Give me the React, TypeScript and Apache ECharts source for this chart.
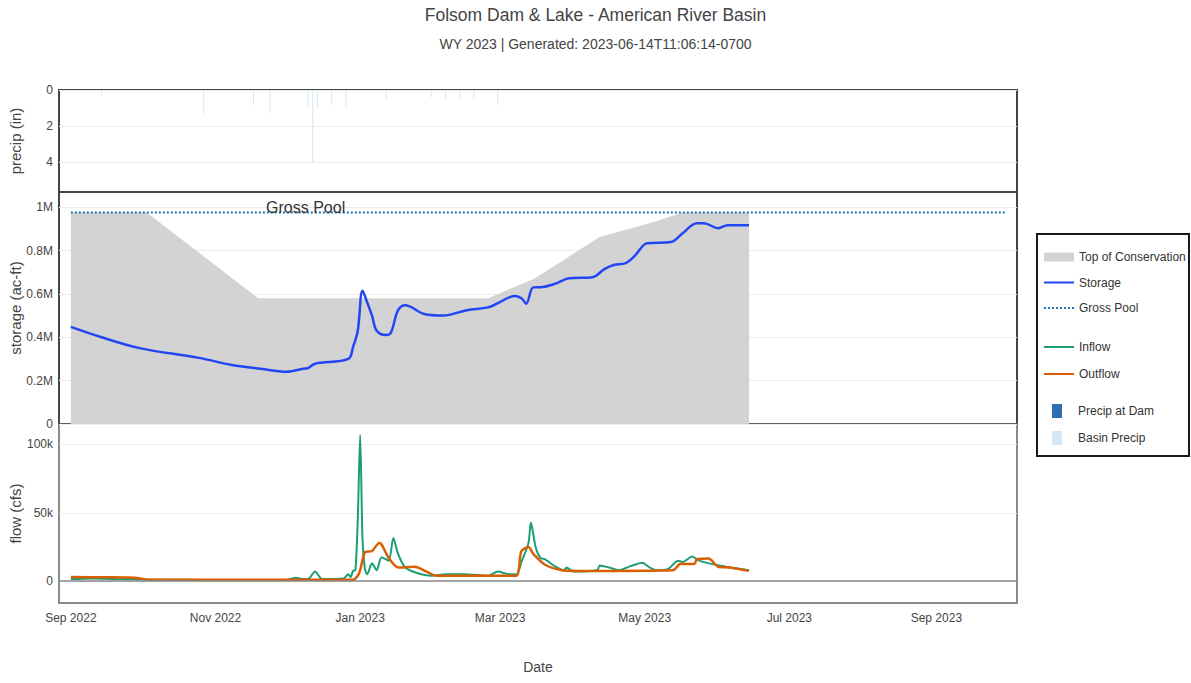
import React, { useEffect, useRef } from "react";
import * as echarts from "echarts";

// ---------- data ----------
const xTickDates = ["2022-09-01", "2022-11-01", "2023-01-01", "2023-03-01", "2023-05-01", "2023-07-01", "2023-09-01"];
const xTickLabels = ["Sep 2022", "Nov 2022", "Jan 2023", "Mar 2023", "May 2023", "Jul 2023", "Sep 2023"];
const xRange = ["2022-08-27", "2023-10-05"];

const precipTicks = [0, 2, 4];
const storageTicks = [0, 200000, 400000, 600000, 800000, 1000000];
const storageTickLabels = ["0", "0.2M", "0.4M", "0.6M", "0.8M", "1M"];
const flowTicks = [0, 50000, 100000];
const flowTickLabels = ["0", "50k", "100k"];

const basinPrecipDates = ["2022-09-14", "2022-10-27", "2022-11-17", "2022-11-24", "2022-12-10", "2022-12-12", "2022-12-14", "2022-12-20", "2022-12-26", "2023-01-12", "2023-01-31", "2023-02-06", "2023-02-12", "2023-02-18", "2023-02-28"];
const basinPrecipValues = [0.3, 1.3, 0.8, 1.3, 0.9, 4.0, 1.0, 0.8, 1.0, 0.5, 0.4, 0.5, 0.5, 0.5, 0.8];
const damPrecipDates: string[] = [];
const damPrecipValues: number[] = [];

const tocDates = ["2022-09-01", "2022-10-03", "2022-11-19", "2023-02-24", "2023-03-15", "2023-03-29", "2023-04-12", "2023-05-03", "2023-05-17", "2023-06-14"];
const tocValues = [975000, 975000, 580000, 580000, 668000, 765000, 863000, 926000, 975000, 975000];

const grossPoolDates = ["2022-09-01", "2023-09-30"];
const grossPoolValues = [975000, 975000];

const storageDates = ["2022-09-01", "2022-09-14", "2022-09-30", "2022-10-25", "2022-11-08", "2022-11-20", "2022-12-01", "2022-12-08", "2022-12-10", "2022-12-13", "2022-12-27", "2022-12-29", "2022-12-31", "2023-01-02", "2023-01-04", "2023-01-06", "2023-01-08", "2023-01-12", "2023-01-14", "2023-01-17", "2023-01-20", "2023-01-28", "2023-02-05", "2023-02-15", "2023-02-24", "2023-02-28", "2023-03-07", "2023-03-10", "2023-03-12", "2023-03-15", "2023-03-19", "2023-03-25", "2023-03-30", "2023-04-09", "2023-04-14", "2023-04-18", "2023-04-23", "2023-04-27", "2023-05-02", "2023-05-12", "2023-05-17", "2023-05-23", "2023-05-26", "2023-06-01", "2023-06-05", "2023-06-14"];
const storageValues = [448000, 400000, 350000, 305000, 272000, 255000, 241000, 255000, 258000, 278000, 300000, 355000, 430000, 615000, 560000, 500000, 430000, 410000, 422000, 525000, 548000, 507000, 500000, 525000, 538000, 557000, 590000, 580000, 555000, 630000, 632000, 650000, 672000, 677000, 714000, 733000, 742000, 778000, 834000, 839000, 880000, 926000, 926000, 903000, 917000, 917000];

const inflowDates = ["2022-09-01", "2022-09-10", "2022-09-20", "2022-10-01", "2022-10-20", "2022-11-01", "2022-11-15", "2022-12-01", "2022-12-05", "2022-12-08", "2022-12-10", "2022-12-13", "2022-12-16", "2022-12-25", "2022-12-27", "2022-12-28", "2022-12-29", "2022-12-30", "2022-12-31", "2023-01-01", "2023-01-02", "2023-01-03", "2023-01-04", "2023-01-06", "2023-01-08", "2023-01-10", "2023-01-13", "2023-01-15", "2023-01-17", "2023-01-20", "2023-01-25", "2023-01-31", "2023-02-06", "2023-02-14", "2023-02-24", "2023-02-28", "2023-03-05", "2023-03-08", "2023-03-10", "2023-03-13", "2023-03-14", "2023-03-16", "2023-03-18", "2023-03-20", "2023-03-24", "2023-03-28", "2023-03-29", "2023-04-01", "2023-04-11", "2023-04-12", "2023-04-16", "2023-04-20", "2023-04-25", "2023-04-30", "2023-05-03", "2023-05-06", "2023-05-11", "2023-05-15", "2023-05-17", "2023-05-21", "2023-05-24", "2023-05-28", "2023-06-03", "2023-06-06", "2023-06-14"];
const inflowValues = [1500, 2000, 1500, 1200, 1000, 800, 900, 1000, 2500, 1500, 1500, 7000, 1500, 2000, 5000, 3000, 7500, 8000, 45000, 107000, 30000, 9000, 5000, 13000, 8000, 17500, 15000, 31500, 20000, 10000, 6000, 4000, 5000, 5000, 4000, 7000, 5000, 5000, 14000, 28000, 43000, 25000, 17000, 16000, 11000, 8000, 10000, 7000, 8000, 11500, 10000, 8000, 11000, 13500, 10000, 8000, 9000, 15000, 14000, 18000, 15000, 13000, 11000, 10000, 8000];

const outflowDates = ["2022-09-01", "2022-09-15", "2022-09-28", "2022-10-03", "2022-11-15", "2022-12-29", "2022-12-31", "2023-01-01", "2023-01-03", "2023-01-06", "2023-01-09", "2023-01-10", "2023-01-13", "2023-01-17", "2023-01-24", "2023-01-29", "2023-02-02", "2023-02-28", "2023-03-08", "2023-03-09", "2023-03-10", "2023-03-13", "2023-03-15", "2023-03-20", "2023-03-27", "2023-04-03", "2023-05-13", "2023-05-16", "2023-05-22", "2023-05-23", "2023-05-28", "2023-06-01", "2023-06-06", "2023-06-14"];
const outflowValues = [3000, 2800, 2500, 1200, 1000, 1000, 4000, 8000, 21000, 22000, 28000, 27000, 17000, 10000, 10500, 7000, 4000, 4000, 4000, 10000, 22000, 25000, 20000, 12000, 8000, 7500, 8000, 12500, 12500, 16000, 16500, 10500, 10000, 7500];

const grossPoolLabelDate = "2022-12-09";

// ---------- helpers ----------
const t = (s: string) => Date.parse(s);
const pairs = (d: string[], v: number[]) => d.map((s, i) => [t(s), v[i]]);

const FONT = "'Liberation Sans', Arial, sans-serif";
const xTickTimes = xTickDates.map(t);
const hideSymbol = { itemStyle: { opacity: 0 } };

export default function App() {
  const ref = useRef<HTMLDivElement>(null);

  useEffect(() => {
    if (!ref.current) return;
    const chart = echarts.init(ref.current, undefined, { renderer: "svg" });

    const baseX = (gridIndex: number, showLabels: boolean) => ({
      type: "value",
      gridIndex,
      min: t(xRange[0]),
      max: t(xRange[1]),
      axisLine: { show: false },
      axisTick: { show: false, customValues: xTickTimes },
      splitLine: { show: false },
      axisLabel: {
        show: showLabels,
        customValues: xTickTimes,
        fontSize: 12,
        color: "#444",
        margin: 9,
        formatter: (v: number) => {
          const i = xTickTimes.indexOf(v);
          return i >= 0 ? xTickLabels[i] : "";
        },
      },
      ...(showLabels
        ? { name: "Date", nameLocation: "middle", nameGap: 57, nameMoveOverlap: false, nameTextStyle: { fontSize: 14, color: "#444" } }
        : {}),
    });

    const yName = { nameLocation: "middle", nameGap: 36, nameMoveOverlap: false, nameTextStyle: { fontSize: 15, color: "#444" } };
    const splitLine = { show: true, lineStyle: { color: "#ececec", width: 1 } };
    const gridBase = { left: 59, width: 958, show: true, backgroundColor: "transparent", containLabel: false, outerBoundsMode: "none" };

    const option: any = {
      animation: false,
      textStyle: { fontFamily: FONT },
      title: [
        { text: "Folsom Dam & Lake - American River Basin", left: "center", top: 6, padding: 0, textStyle: { fontSize: 17.5, fontWeight: "normal", color: "#444", fontFamily: FONT } },
        { text: "WY 2023 | Generated: 2023-06-14T11:06:14-0700", left: "center", top: 37, padding: 0, textStyle: { fontSize: 14, fontWeight: "normal", color: "#444", fontFamily: FONT } },
      ],
      grid: [
        { ...gridBase, top: 90, height: 102, borderColor: "#444", borderWidth: 2 },
        { ...gridBase, top: 192, height: 232, borderColor: "#444", borderWidth: 2 },
        { ...gridBase, top: 424, height: 179, borderColor: "#666", borderWidth: 1.5 },
      ],
      xAxis: [baseX(0, false), baseX(1, false), baseX(2, true)],
      yAxis: [
        {
          type: "value", gridIndex: 0, min: 0, max: 5.67, inverse: true,
          name: "precip (in)", ...yName,
          axisLine: { show: false }, axisTick: { show: false, customValues: precipTicks },
          axisLabel: { customValues: precipTicks, fontSize: 12, color: "#444", margin: 6 },
          splitLine,
        },
        {
          type: "value", gridIndex: 1, min: 0, max: 1070000,
          name: "storage (ac-ft)", ...yName,
          axisLine: { show: false }, axisTick: { show: false, customValues: storageTicks },
          axisLabel: {
            customValues: storageTicks, fontSize: 12, color: "#444", margin: 6,
            formatter: (v: number) => {
              const i = storageTicks.indexOf(v);
              return i >= 0 ? storageTickLabels[i] : "";
            },
          },
          splitLine,
        },
        {
          type: "value", gridIndex: 2, min: -16000, max: 115000,
          name: "flow (cfs)", ...yName,
          axisLine: { show: false }, axisTick: { show: false, customValues: flowTicks },
          axisLabel: {
            customValues: flowTicks, fontSize: 12, color: "#444", margin: 6,
            formatter: (v: number) => {
              const i = flowTicks.indexOf(v);
              return i >= 0 ? flowTickLabels[i] : "";
            },
          },
          splitLine,
        },
      ],
      legend: [
        {
          orient: "vertical", left: 1043, top: 251, padding: 0, itemWidth: 30, itemHeight: 9, itemGap: 13.5,
          textStyle: { fontSize: 12, color: "#333", fontFamily: FONT },
          data: [{ name: "Top of Conservation", icon: "rect" }, { name: "Storage", ...hideSymbol }, { name: "Gross Pool", ...hideSymbol }],
        },
        {
          orient: "vertical", left: 1043, top: 341, padding: 0, itemWidth: 30, itemHeight: 10, itemGap: 15,
          textStyle: { fontSize: 12, color: "#333", fontFamily: FONT },
          data: [{ name: "Inflow", ...hideSymbol }, { name: "Outflow", ...hideSymbol }],
        },
        {
          orient: "vertical", left: 1052, top: 404, padding: 0, itemWidth: 10, itemHeight: 14, itemGap: 13,
          textStyle: { fontSize: 12, color: "#333", fontFamily: FONT, padding: [0, 0, 0, 11] },
          data: [{ name: "Precip at Dam", icon: "rect" }, { name: "Basin Precip", icon: "rect" }],
        },
      ],
      graphic: [
        { type: "rect", shape: { x: 1037, y: 234, width: 152, height: 222 }, style: { fill: "none", stroke: "#1a1a1a", lineWidth: 2 }, silent: true },
      ],
      series: [
        {
          name: "Precip at Dam", type: "bar", xAxisIndex: 0, yAxisIndex: 0, barWidth: 1,
          itemStyle: { color: "#2f6eb0" }, data: pairs(damPrecipDates, damPrecipValues),
        },
        {
          name: "Basin Precip", type: "bar", xAxisIndex: 0, yAxisIndex: 0, barWidth: 1, barGap: "-100%",
          itemStyle: { color: "#c3dcf0", opacity: 0.7 }, data: pairs(basinPrecipDates, basinPrecipValues),
        },
        {
          name: "Top of Conservation", type: "line", xAxisIndex: 1, yAxisIndex: 1, symbol: "none",
          lineStyle: { width: 0, color: "#d3d3d3" }, itemStyle: { color: "#d3d3d3" },
          areaStyle: { color: "#d3d3d3", opacity: 1 }, z: 1,
          data: pairs(tocDates, tocValues),
        },
        {
          name: "Gross Pool", type: "line", xAxisIndex: 1, yAxisIndex: 1, symbol: "none",
          lineStyle: { width: 2, type: [2, 2], color: "#1f77b4" }, itemStyle: { color: "#1f77b4" }, z: 3,
          data: pairs(grossPoolDates, grossPoolValues),
          markPoint: {
            symbol: "circle", symbolSize: 0, silent: true,
            label: { show: true, position: "inside", offset: [0, -5], formatter: "Gross Pool", fontSize: 16, color: "#333", fontFamily: FONT },
            data: [{ coord: [t(grossPoolLabelDate), grossPoolValues[0]] }],
          },
        },
        {
          name: "Storage", type: "line", xAxisIndex: 1, yAxisIndex: 1, symbol: "none", smooth: 0.35,
          lineStyle: { width: 2.5, color: "#2346f5" }, itemStyle: { color: "#2346f5" }, z: 4,
          data: pairs(storageDates, storageValues),
        },
        {
          name: "Inflow", type: "line", xAxisIndex: 2, yAxisIndex: 2, symbol: "none", smooth: 0.25,
          lineStyle: { width: 2, color: "#1b9e77" }, itemStyle: { color: "#1b9e77" }, z: 3,
          data: pairs(inflowDates, inflowValues),
          markLine: {
            silent: true, symbol: ["none", "none"], label: { show: false },
            lineStyle: { color: "#888", width: 1.5, type: "solid" },
            data: [{ yAxis: 0 }],
          },
        },
        {
          name: "Outflow", type: "line", xAxisIndex: 2, yAxisIndex: 2, symbol: "none", smooth: 0.25,
          lineStyle: { width: 2.5, color: "#d95f02" }, itemStyle: { color: "#d95f02" }, z: 4,
          data: pairs(outflowDates, outflowValues),
        },
      ],
    };

    chart.setOption(option);
    return () => chart.dispose();
  }, []);

  return (
    <div
      ref={ref}
      style={{ position: "fixed", left: 0, top: 0, width: 1191, height: 683, background: "#fff" }}
    />
  );
}
